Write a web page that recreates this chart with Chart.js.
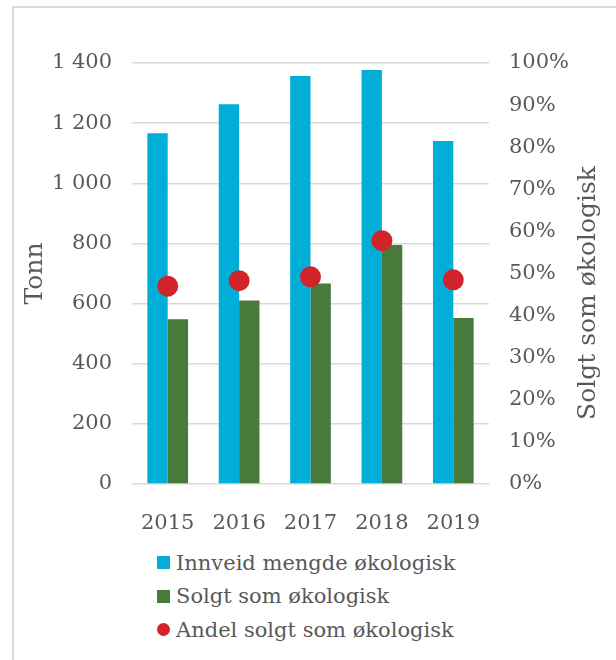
<!DOCTYPE html>
<html lang="no">
<head>
  <meta charset="UTF-8" />
  <title>Økologisk mengde</title>
  <script src="https://cdn.jsdelivr.net/npm/chart.js"></script>
  <style>
    html, body { margin: 0; padding: 0; background: #fff; }
    body { width: 616px; height: 660px; overflow: hidden; position: relative; font-family: "DejaVu Serif", serif; }
    .frame { position: absolute; left: 12px; top: 6px; width: 700px; height: 700px; border: 2px solid #d9d9d9; box-sizing: border-box; }
    .chart-box { position: absolute; left: 0; top: 0; width: 616px; height: 540px; }
    #legend { position: absolute; left: 157px; top: 546px; color: #595959; font-size: 21px; }
    #legend div { height: 33.5px; display: flex; align-items: center; }
    #legend span.mark { display: inline-block; width: 13px; height: 13px; margin-right: 6px; }
  </style>
</head>
<body>
  <div class="frame"></div>
  <div class="chart-box"><canvas id="chart"></canvas></div>
  <div id="legend"></div>

  <script>
    // Data
    const years = ['2015', '2016', '2017', '2018', '2019'];
    const innveid = [1166, 1263, 1357, 1377, 1141];
    const solgt = [548, 610, 667, 795, 552];
    const andel = [47.0, 48.3, 49.2, 57.8, 48.5];
    const seriesNames = ['Innveid mengde økologisk', 'Solgt som økologisk', 'Andel solgt som økologisk'];
    const leftTitle = 'Tonn';
    const rightTitle = 'Solgt som økologisk';

    const textColor = '#595959';
    const gridColor = '#d9d9d9';
    const fontFamily = '"DejaVu Serif", serif';
    const tickFont = { family: fontFamily, size: 21 };
    const titleFont = { family: fontFamily, size: 25 };

    const thousands = v => String(v).replace(/\B(?=(\d{3})+(?!\d))/g, '\u00a0');

    // right axis title reads bottom-to-top, like in the original
    const rightTitlePlugin = {
      id: 'rightTitle',
      afterDraw(chart) {
        const s = chart.scales.y1;
        const ctx = chart.ctx;
        ctx.save();
        ctx.translate(s.right - 18, 293);
        ctx.rotate(-Math.PI / 2);
        ctx.fillStyle = textColor;
        ctx.font = titleFont.size + 'px ' + fontFamily;
        ctx.textAlign = 'center';
        ctx.textBaseline = 'middle';
        ctx.fillText(rightTitle, 0, 0);
        ctx.restore();
      }
    };

    const chart = new Chart(document.getElementById('chart'), {
      type: 'bar',
      data: {
        labels: years,
        datasets: [
          {
            type: 'line',
            label: seriesNames[2],
            data: andel,
            yAxisID: 'y1',
            showLine: false,
            pointRadius: 10.5,
            pointBackgroundColor: '#d2232a',
            pointBorderWidth: 0,
            order: 0
          },
          {
            label: seriesNames[0],
            data: innveid,
            backgroundColor: '#00aed7',
            yAxisID: 'y',
            order: 1
          },
          {
            label: seriesNames[1],
            data: solgt,
            backgroundColor: '#477a3b',
            yAxisID: 'y',
            order: 1
          }
        ]
      },
      options: {
        responsive: true,
        maintainAspectRatio: false,
        animation: false,
        datasets: { bar: { categoryPercentage: 0.57, barPercentage: 1 } },
        layout: { padding: { left: 13, right: 10, top: 63, bottom: 6 } },
        plugins: { legend: { display: false }, tooltip: { enabled: false } },
        scales: {
          x: {
            grid: { display: false },
            border: { display: false },
            ticks: { color: textColor, font: tickFont, padding: 19 },
            afterFit: s => { s.height = 50; }
          },
          y: {
            position: 'left',
            min: 0,
            max: 1400,
            grid: { color: gridColor, lineWidth: 1.5, drawTicks: false },
            border: { display: false },
            ticks: { stepSize: 200, color: textColor, font: tickFont, padding: 20, callback: v => thousands(v) },
            title: { display: true, text: leftTitle, color: textColor, font: titleFont, padding: { top: 7, bottom: 0 } },
            afterFit: s => { s.width = 119; }
          },
          y1: {
            position: 'right',
            min: 0,
            max: 100,
            grid: { display: false, drawTicks: false },
            border: { display: false },
            ticks: { stepSize: 10, color: textColor, font: tickFont, padding: 20, callback: v => v + '%' },
            afterFit: s => { s.width = 117; }
          }
        }
      },
      plugins: [rightTitlePlugin]
    });

    // Legend (vertical list as in the original)
    const legendOrder = [1, 2, 0];
    const legend = document.getElementById('legend');
    legendOrder.forEach(i => {
      const ds = chart.data.datasets[i];
      const row = document.createElement('div');
      const mark = document.createElement('span');
      mark.className = 'mark';
      mark.style.background = ds.type === 'line' ? ds.pointBackgroundColor : ds.backgroundColor;
      if (ds.type === 'line') mark.style.borderRadius = '50%';
      row.appendChild(mark);
      row.appendChild(document.createTextNode(ds.label));
      legend.appendChild(row);
    });
  </script>
</body>
</html>
